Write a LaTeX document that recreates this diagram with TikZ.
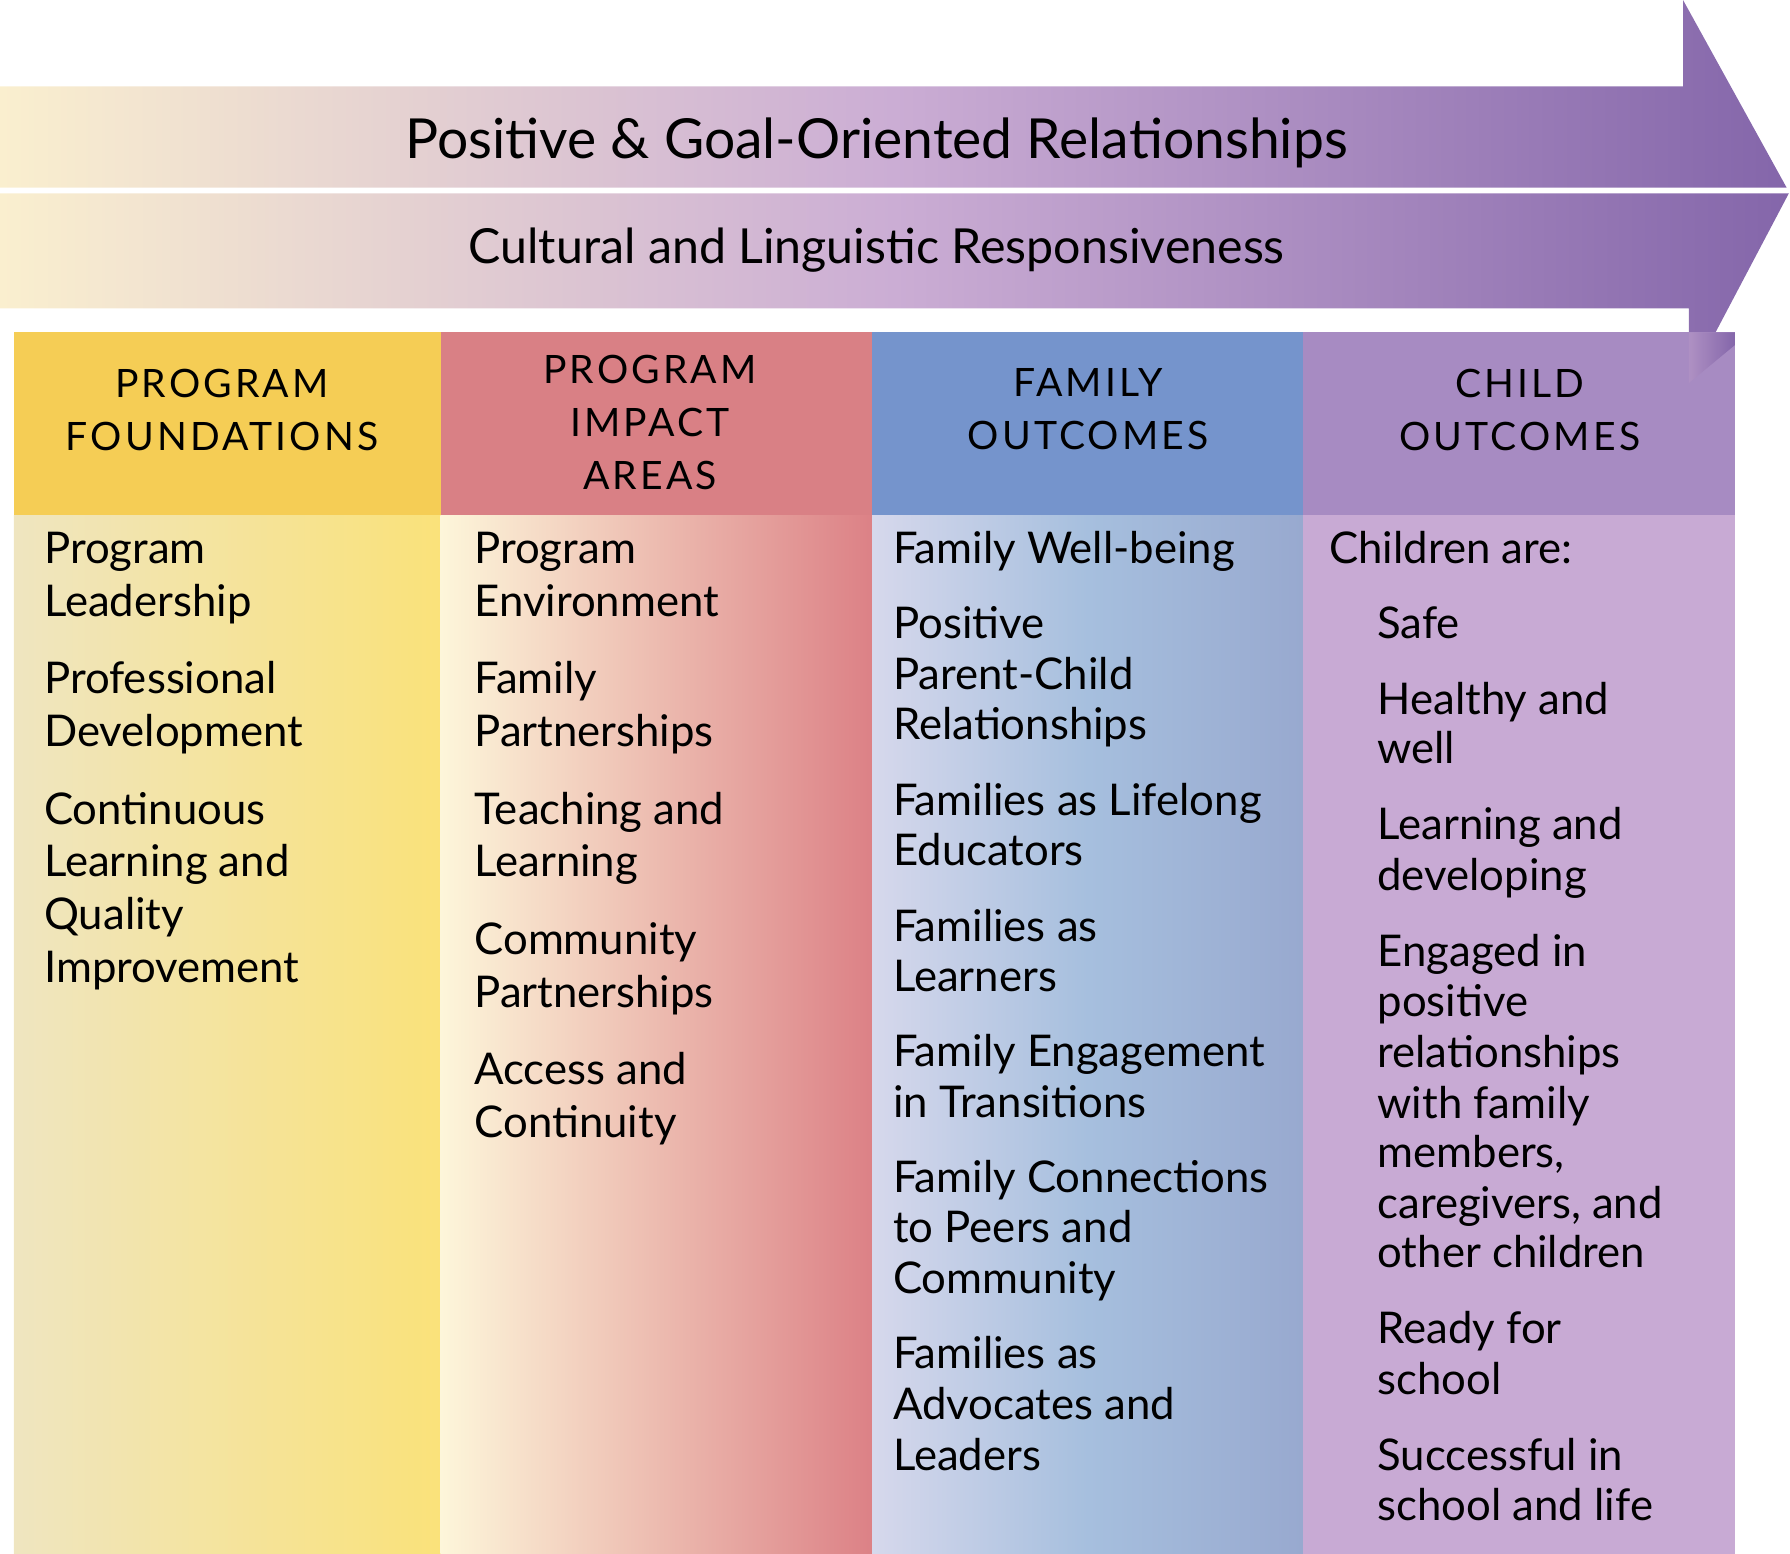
\documentclass[tikz,border=0pt]{standalone}
\usepackage{fontspec}
\setmainfont{Lato}
\newfontfamily\hdfont[LetterSpace=8]{Lato}
\definecolor{bandL}{HTML}{FAEFCF}
\definecolor{bandM}{HTML}{CBADD4}
\definecolor{bandR}{HTML}{8466AA}
\definecolor{hA}{HTML}{F5CD55}
\definecolor{hB}{HTML}{D98085}
\definecolor{hC}{HTML}{7594CC}
\definecolor{hD}{HTML}{A78BC2}
\definecolor{aL}{HTML}{EFE5C0}
\definecolor{aR}{HTML}{FAE27A}
\definecolor{bL}{HTML}{FDF6DA}
\definecolor{bR}{HTML}{DC8186}
\definecolor{cL}{HTML}{D6D8EC}
\definecolor{cM}{HTML}{A6BFDE}
\definecolor{cR}{HTML}{98A9CF}
\definecolor{dB}{HTML}{C8AAD4}
\begin{document}
\begin{tikzpicture}[x=0.5pt,y=-0.5pt,
  hd/.style={font=\hdfont\fontsize{17}{23}\selectfont,align=center,text=black},
  it/.style={font=\fontsize{19}{23}\selectfont,anchor=base west,inner sep=0pt,text=black},
  bandtxt/.style={text=black,inner sep=0pt}]
\useasboundingbox (0,0) rectangle (1556,1350);
% bands
\shade[left color=bandL,right color=bandR,middle color=bandM] (0,75) -- (1463,75) -- (1463,0) -- (1553,163) -- (0,163) -- cycle;
\shade[left color=bandL,right color=bandR,middle color=bandM] (0,168) -- (1555,168) -- (1468,333) -- (1468,268) -- (0,268) -- cycle;
\node[bandtxt,font=\fontsize{24}{28}\selectfont] (t1) at (762,124) {Positive \& Goal-Oriented Relationships};
\node[bandtxt,font=\fontsize{21}{26}\selectfont] (t2) at (762,217) {Cultural and Linguistic Responsiveness};
% column bodies
\shade[left color=aL,right color=aR] (12,448) rectangle (383,1357);
\shade[left color=bL,right color=bR] (383,448) rectangle (758,1357);
\shade[left color=cL,right color=cR,middle color=cM] (758,448) rectangle (1133,1357);
\fill[dB] (1133,448) rectangle (1508,1357);
% headers
\fill[hA] (12,289) rectangle (383,448);
\fill[hB] (383,289) rectangle (758,448);
\fill[hC] (758,289) rectangle (1133,448);
\fill[hD] (1133,289) rectangle (1508,448);
\shade[left color=bandM!60!bandR,right color=bandR] (1468,289) -- (1508,289) -- (1508,300) -- (1468,333) -- cycle;
\node[hd] (h1) at (193,356) {PROGRAM\\FOUNDATIONS};
\node[hd] (h2) at (565,367) {PROGRAM\\IMPACT\\AREAS};
\node[hd] (h3) at (946,356) {FAMILY\\OUTCOMES};
\node[hd] (h4) at (1321,356) {CHILD\\OUTCOMES};
% column texts
\foreach \y/\t [count=\i] in {478/Program,524/Leadership,591/Professional,637/Development,705/Continuous,750/Learning and,796/Quality,842/Improvement}
  \node[it] (a\i) at (38,\y+12) {\t};
\foreach \y/\t [count=\i] in {478/Program,524/Environment,591/Family,637/Partnerships,705/Teaching and,750/Learning,818/Community,864/Partnerships,931/Access and,977/Continuity}
  \node[it] (b\i) at (412,\y+12) {\t};
\foreach \y/\t [count=\i] in {478/Family Well-being,543/Positive,587/Parent-Child,631/Relationships,697/Families as Lifelong,740/Educators,806/Families as,850/Learners,915/Family Engagement,959/in Transitions,1025/Family Connections,1068/to Peers and,1112/Community,1178/Families as,1222/Advocates and,1266/Leaders}
  \node[it] (c\i) at (776,\y+12) {\t};
\node[it] (d0) at (1155,490) {Children are:};
\foreach \y/\t [count=\i] in {543/Safe,609/Healthy and,652/well,718/Learning and,762/developing,828/Engaged in,872/positive,916/relationships,960/with family,1003/members{,},1047/caregivers{,} and,1090/other children,1156/Ready for,1200/school,1266/Successful in,1310/school and life}
  \node[it] (d\i) at (1197,\y+12) {\t};
\end{tikzpicture}
\end{document}
